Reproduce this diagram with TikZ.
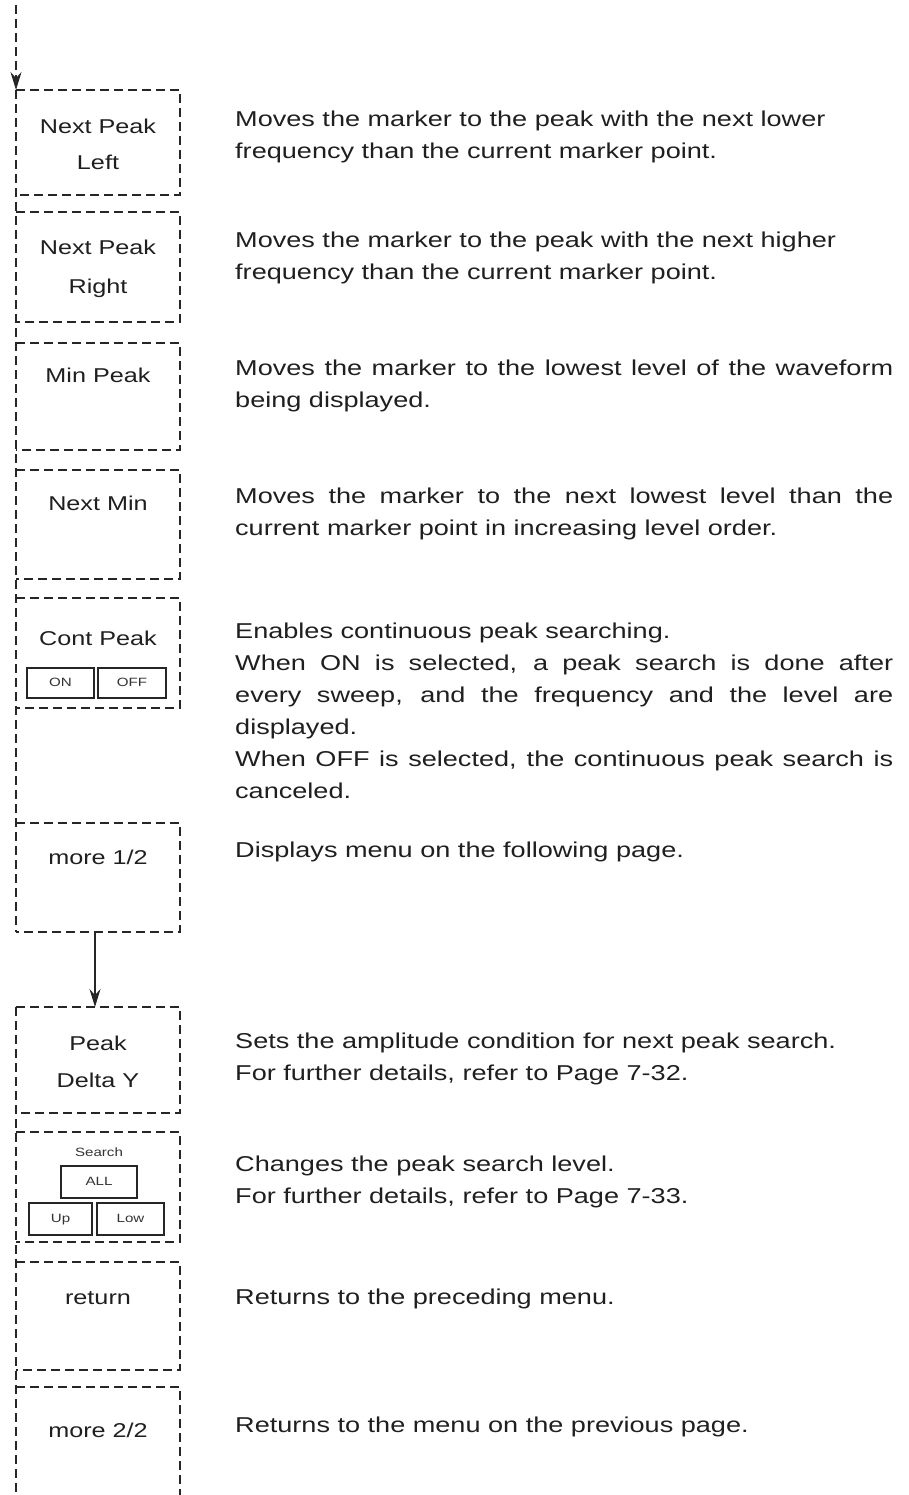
\documentclass[tikz,border=0pt]{standalone}
\usepackage{fontspec}
\setmainfont{Liberation Sans}
\newfontfamily\wfont[FakeStretch=1.26]{Liberation Sans}
\usetikzlibrary{arrows.meta}
\newcommand{\jline}[1]{\makebox[658pt][s]{#1}}
\tikzset{
  menubox/.style={rectangle, minimum width=164pt, inner sep=0pt, outer sep=0pt},
  edgeline/.style={draw=black!85, line width=1.4pt, dash pattern=on 9pt off 5pt},
  lbl/.style={anchor=base, inner sep=0pt, font=\wfont\fontsize{20}{24}\selectfont, text=black!88},
  desc/.style={anchor=base west, inner sep=0pt, font=\wfont\fontsize{21.5}{26}\selectfont, text=black!88},
  small/.style={anchor=base, inner sep=0pt, font=\wfont\fontsize{12}{14}\selectfont, text=black!80},
  btn/.style={draw=black!85, line width=1.5pt, rectangle, inner sep=0pt, outer sep=0pt, text height=8.6pt, text depth=2.6pt, font=\wfont\fontsize{12}{14}\selectfont, text=black!80},
  tip/.style={-{Stealth[length=18pt,width=11pt,inset=6pt]}}
}
\begin{document}
\begin{tikzpicture}[x=1pt,y=-1pt]
\useasboundingbox (0,0) rectangle (908,1495);
% boxes
\node[menubox, minimum height=105pt] (b1) at (98,142.5) {};
\node[menubox, minimum height=110pt] (b2) at (98,267) {};
\node[menubox, minimum height=107pt] (b3) at (98,396.5) {};
\node[menubox, minimum height=109pt] (b4) at (98,524.5) {};
\node[menubox, minimum height=110pt] (b5) at (98,653) {};
\node[menubox, minimum height=109pt] (b6) at (98,877.5) {};
\node[menubox, minimum height=106pt] (b7) at (98,1060) {};
\node[menubox, minimum height=110pt] (b8) at (98,1187) {};
\node[menubox, minimum height=108pt] (b9) at (98,1316) {};
\node[menubox, minimum height=108pt] (b10) at (98,1441) {};
\coordinate (start) at (16,5);
\coordinate (finish) at (16,1495);
% box edges (top, right, bottom)
\foreach \b in {b1,b2,b3,b4,b5,b6,b7,b8,b9}{
  \draw[edgeline] (\b.north west) -- (\b.north east) -- (\b.south east) -- (\b.south west);
}
\draw[edgeline] (b10.north west) -- (b10.north east) -- (b10.south east);
% continuous left lines
\draw[edgeline] (b1.north west) -- (b6.south west);
\draw[edgeline] (b7.north west) -- (finish);
% arrows
\draw[edgeline, tip] (start) -- (b1.north west);
\draw[draw=black!85, line width=1.4pt, tip] ([xshift=-3pt]b6.south) -- ([xshift=-3pt]b7.north);
% labels
\node[lbl] (l1a) at (98,134) {Next Peak};
\node[lbl] (l1b) at (98,170) {Left};
\node[lbl] (l2a) at (98,255) {Next Peak};
\node[lbl] (l2b) at (98,294) {Right};
\node[lbl] (l3) at (98,382) {Min Peak};
\node[lbl] (l4) at (98,510) {Next Min};
\node[lbl] (l5) at (98,645) {Cont Peak};
\node[btn, minimum width=67pt, minimum height=30pt] (on) at (60.5,683) {ON};
\node[btn, minimum width=68pt, minimum height=30pt] (off) at (132,683) {OFF};
\node[lbl] (l6) at (98,864) {more 1/2};
\node[lbl] (l7a) at (98,1050) {Peak};
\node[lbl] (l7b) at (98,1087) {Delta Y};
\node[small] (l8) at (99,1156) {Search};
\node[btn, minimum width=76pt, minimum height=32pt] (all) at (99,1182) {ALL};
\node[btn, minimum width=63pt, minimum height=32pt] (up) at (60.5,1219) {Up};
\node[btn, minimum width=67pt, minimum height=32pt] (low) at (130.5,1219) {Low};
\node[lbl] (l9) at (98,1304) {return};
\node[lbl] (l10) at (98,1437) {more 2/2};
% descriptions
\node[desc] (d1a) at (235,127) {Moves the marker to the peak with the next lower};
\node[desc] (d1b) at (235,159) {frequency than the current marker point.};
\node[desc] (d2a) at (235,248) {Moves the marker to the peak with the next higher};
\node[desc] (d2b) at (235,280) {frequency than the current marker point.};
\node[desc] (d3a) at (235,375) {\jline{Moves the marker to the lowest level of the waveform}};
\node[desc] (d3b) at (235,407) {being displayed.};
\node[desc] (d4a) at (235,503) {\jline{Moves the marker to the next lowest level than the}};
\node[desc] (d4b) at (235,535) {current marker point in increasing level order.};
\node[desc] (d5a) at (235,638) {Enables continuous peak searching.};
\node[desc] (d5b) at (235,670) {\jline{When ON is selected, a peak search is done after}};
\node[desc] (d5c) at (235,702) {\jline{every sweep, and the frequency and the level are}};
\node[desc] (d5d) at (235,734) {displayed.};
\node[desc] (d5e) at (235,766) {\jline{When OFF is selected, the continuous peak search is}};
\node[desc] (d5f) at (235,798) {canceled.};
\node[desc] (d6) at (235,857) {Displays menu on the following page.};
\node[desc] (d7a) at (235,1048) {Sets the amplitude condition for next peak search.};
\node[desc] (d7b) at (235,1080) {For further details, refer to Page 7-32.};
\node[desc] (d8a) at (235,1171) {Changes the peak search level.};
\node[desc] (d8b) at (235,1203) {For further details, refer to Page 7-33.};
\node[desc] (d9) at (235,1304) {Returns to the preceding menu.};
\node[desc] (d10) at (235,1432) {Returns to the menu on the previous page.};
\end{tikzpicture}
\end{document}
